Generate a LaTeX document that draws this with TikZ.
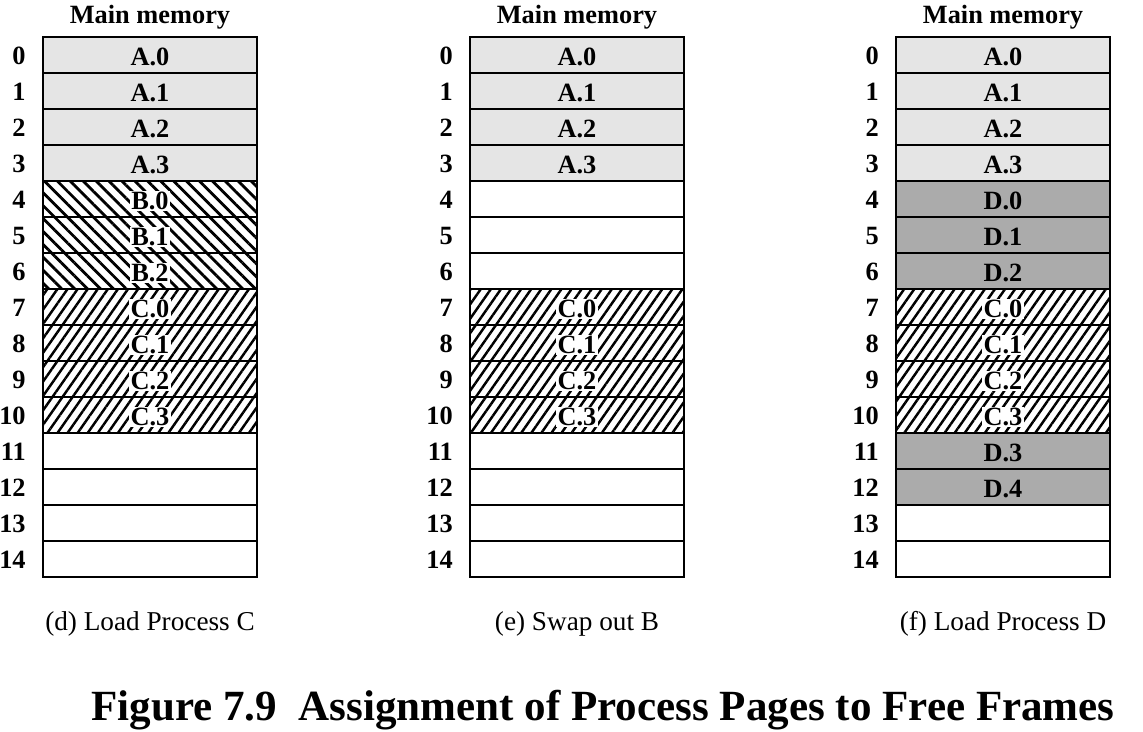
\documentclass[tikz,border=0pt]{standalone}
\usepackage{fontspec}
\setmainfont{Liberation Serif}
\usetikzlibrary{positioning, patterns.meta}

\definecolor{pageA}{gray}{0.9}
\definecolor{pageD}{gray}{0.67}

\begin{document}
\begin{tikzpicture}[
    x=0.02cm, y=-0.02cm,
    memframe/.style={draw, line width=1.2pt, minimum width=4.28cm, minimum height=0.72cm,
        outer sep=0pt, inner sep=0pt, text height=12.4pt, text depth=0pt,
        font=\fontsize{15}{17}\selectfont\bfseries},
    pageA/.style={memframe, fill=pageA},
    pageB/.style={memframe, pattern={Lines[angle=-45,distance=5.2pt,line width=1.6pt]}},
    pageC/.style={memframe, pattern={Lines[angle=55,distance=4.7pt,line width=1.4pt]}},
    pageD/.style={memframe, fill=pageD},
    pagehalo/.style={fill=white, inner sep=0.8pt, yshift=-1.2pt, font=\fontsize{15}{17}\selectfont\bfseries},
    framenum/.style={inner sep=0pt, yshift=-0.6pt, font=\fontsize{15}{17}\selectfont\bfseries},
    memhead/.style={anchor=base, font=\fontsize{15}{17}\selectfont\bfseries},
    framecap/.style={anchor=base, font=\fontsize{15.5}{17}\selectfont},
    figtitle/.style={anchor=base, font=\fontsize{24.5}{28}\selectfont\bfseries}
]

\useasboundingbox (0,0) rectangle (1143,731);

% =========================
% Empty memory, one column per step
% =========================
\foreach \c/\x/\cap in {d/150/{(d) Load Process C}, e/577/{(e) Swap out B}, f/1003/{(f) Load Process D}}
{
    \node[memhead] (\c-head) at (\x,23) {Main memory};
    \foreach \r in {0,...,14}
    {
        \node[memframe] (\c\r) at (\x,{55+36*\r}) {};
        \node[framenum, left=0.34cm of \c\r] (\c\r-num) {\r};
    }
    \node[framecap] (\c-cap) at (\x,630) {\cap};
}

% =========================
% Process A: frames 0-3
% =========================
\foreach \c in {d,e,f}
{
    \foreach \i in {0,...,3}
    {
        \node[pageA] (\c-A\i) at (\c\i) {A.\i};
    }
}

% Process B: frames 4-6, only in (d)
\foreach \i [count=\r from 4] in {0,...,2}
{
    \node[pageB] (d-B\i) at (d\r) {};
    \node[pagehalo] (d-B\i-txt) at (d-B\i) {B.\i};
}

% Process C: frames 7-10
\foreach \c in {d,e,f}
{
    \foreach \i [count=\r from 7] in {0,...,3}
    {
        \node[pageC] (\c-C\i) at (\c\r) {};
        \node[pagehalo] (\c-C\i-txt) at (\c-C\i) {C.\i};
    }
}

% Process D: free frames of (f)
\foreach \i/\r in {0/4, 1/5, 2/6, 3/11, 4/12}
{
    \node[pageD] (f-D\i) at (f\r) {D.\i};
}

% Caption
\node[figtitle] (fig-title) at (603,720) {Figure 7.9\hspace{0.5em}Assignment of Process Pages to Free Frames};

\end{tikzpicture}
\end{document}
